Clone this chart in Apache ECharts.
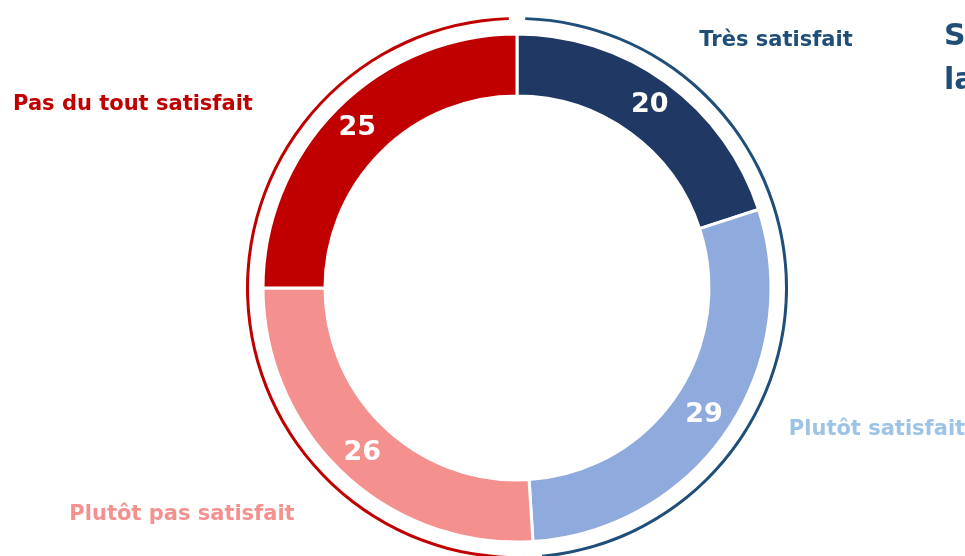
<!DOCTYPE html>
<html><head><meta charset="utf-8">
<script src="https://cdn.jsdelivr.net/npm/echarts@6/dist/echarts.min.js"></script>
<style>html,body{margin:0;padding:0;background:#fff}#c{width:965px;height:556px}</style>
</head><body><div id="c"></div>
<script>
const categories = ['Très satisfait', 'Plutôt satisfait', 'Plutôt pas satisfait', 'Pas du tout satisfait'];
const values = [20, 29, 26, 25];
const sliceColors = ['#203864', '#8FAADC', '#F4918F', '#C00000'];
const labelColors = ['#1F4E79', '#9DC3E6', '#F4918F', '#C00000'];
const groupNames = ['Satisfaits', 'Pas satisfaits'];
const groupValues = [values[0] + values[1], values[2] + values[3]];
const groupColors = ['#1F4E79', '#C00000'];
const titleLines = ['Satisfaction', 'la'];

const font = '"DejaVu Sans"';
const labelPos = [[776, 41], [877, 430], [182, 515], [133, 105]];

const chart = echarts.init(document.getElementById('c'), null, {renderer: 'canvas'});
chart.setOption({
  animation: false,
  backgroundColor: '#fff',
  series: [
    {
      type: 'pie', center: [517, 288], radius: [192, 254], startAngle: 90, clockwise: true,
      silent: true,
      itemStyle: {borderColor: '#fff', borderWidth: 3},
      label: {show: true, position: 'inside', color: '#fff', fontFamily: font, fontWeight: 'bold', fontSize: 27, formatter: '{c}'},
      labelLine: {show: false},
      data: categories.map((n, i) => ({name: n, value: values[i], itemStyle: {color: sliceColors[i]}}))
    },
    {
      type: 'pie', center: [517, 288], radius: [268, 271], startAngle: 90, clockwise: true,
      padAngle: 3.5, silent: true,
      label: {show: false}, labelLine: {show: false},
      data: groupNames.map((n, i) => ({name: n, value: groupValues[i], itemStyle: {color: groupColors[i]}}))
    }
  ],
  graphic: categories.map((n, i) => ({
    type: 'text', x: labelPos[i][0], y: labelPos[i][1],
    style: {text: n, fill: labelColors[i], font: 'bold 21px ' + font, textAlign: 'center', textVerticalAlign: 'middle'}
  })).concat(titleLines.map((t, i) => ({
    type: 'text', x: 944, y: 37 + i * 44,
    style: {text: t, fill: '#1F4E79', font: 'bold 30px ' + font, textAlign: 'left', textVerticalAlign: 'middle'}
  })))
});
</script></body></html>
